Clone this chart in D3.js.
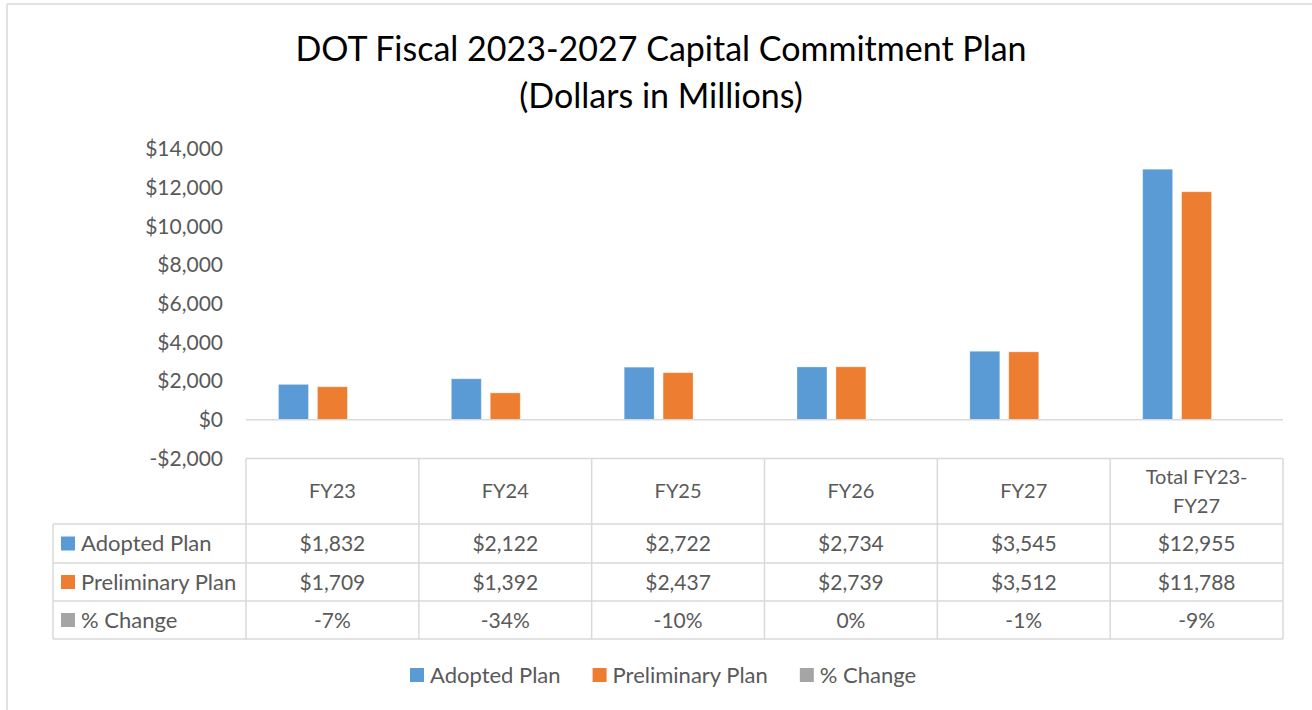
<!DOCTYPE html>
<html>
<head>
<meta charset="utf-8">
<script src="https://cdn.jsdelivr.net/npm/d3@7"></script>
<style>
  body { margin: 0; background: #fff; }
  svg { display: block; font-family: Lato, "Open Sans", sans-serif; }
</style>
</head>
<body>
<svg id="chart" width="1312" height="710"></svg>
<script>
var categories = ["FY23", "FY24", "FY25", "FY26", "FY27", "Total FY23-FY27"];
var headerLines = [["FY23"], ["FY24"], ["FY25"], ["FY26"], ["FY27"], ["Total FY23-", "FY27"]];
var seriesNames = ["Adopted Plan", "Preliminary Plan", "% Change"];
var adopted = [1832, 2122, 2722, 2734, 3545, 12955];
var preliminary = [1709, 1392, 2437, 2739, 3512, 11788];
var pctChange = [-0.07, -0.34, -0.10, 0.00, -0.01, -0.09];
var yTicks = [-2000, 0, 2000, 4000, 6000, 8000, 10000, 12000, 14000];
var colors = ["#5B9BD5", "#ED7D31", "#A5A5A5"];

var svg = d3.select("#chart");
var gridColor = "#D9D9D9",
  textColor = "#595959";

var left = 246,
  right = 1283,
  labelLeft = 53;

// outer chart border (only top and left show in the picture)
svg.append("line").attr("x1", 7).attr("x2", 7).attr("y1", 4).attr("y2", 710)
  .attr("stroke", gridColor).attr("stroke-width", 1.5);
svg.append("line").attr("x1", 7).attr("x2", 1312).attr("y1", 4).attr("y2", 4)
  .attr("stroke", gridColor).attr("stroke-width", 1.5);

// title
var title = svg.append("text")
  .attr("text-anchor", "middle")
  .attr("fill", "#000")
  .style("font-size", "34px");
title.append("tspan").attr("x", 661).attr("y", 61).text("DOT Fiscal 2023-2027 Capital Commitment Plan");
title.append("tspan").attr("x", 661).attr("y", 108).text("(Dollars in Millions)");

var x0 = d3.scaleBand()
  .domain(categories)
  .range([left, right])
  .paddingInner(0.376)
  .paddingOuter(0.188);

var x1 = d3.scaleBand()
  .domain(seriesNames)
  .range([0, x0.bandwidth()])
  .paddingInner(0.23);

var y = d3.scaleLinear()
  .domain([-2000, 14000])
  .range([458.5, 149]);

// y axis labels
var yAxis = d3.axisLeft(y)
  .tickValues(yTicks)
  .tickSize(0)
  .tickPadding(0)
  .tickFormat(function(d) {
    return (d < 0 ? "-$" : "$") + d3.format(",")(Math.abs(d));
  });

var yg = svg.append("g")
  .attr("transform", "translate(223,0)")
  .call(yAxis);
yg.select(".domain").remove();
yg.selectAll("text")
  .attr("fill", textColor)
  .style("font-size", "21px")
  .style("font-family", "Lato, 'Open Sans', sans-serif");

// bars
var rows = categories.map(function(c, i) {
  return { cat: c, values: [adopted[i], preliminary[i], pctChange[i]] };
});

var groups = svg.append("g")
  .selectAll("g")
  .data(rows)
  .enter()
  .append("g")
  .attr("transform", function(d) {
    return "translate(" + x0(d.cat) + ",0)";
  });

groups.selectAll("rect")
  .data(function(d) {
    return d.values.map(function(v, j) {
      return { name: seriesNames[j], value: v, color: colors[j] };
    });
  })
  .enter()
  .append("rect")
  .attr("x", function(d) { return x1(d.name); })
  .attr("width", x1.bandwidth())
  .attr("y", function(d) { return y(Math.max(0, d.value)); })
  .attr("height", function(d) { return Math.abs(y(d.value) - y(0)); })
  .attr("fill", function(d) { return d.color; })
  .attr("stroke", "#fff")
  .attr("stroke-opacity", 0.4)
  .attr("stroke-width", 0.8);

// zero line
svg.append("line")
  .attr("x1", left).attr("x2", right)
  .attr("y1", y(0)).attr("y2", y(0))
  .attr("stroke", gridColor).attr("stroke-width", 1.5);

// data table
var tableTop = y(-2000),
  rowEdges = [tableTop, 524, 563, 601, 639];
var table = svg.append("g").attr("class", "table");

// horizontal lines
table.append("line")
  .attr("x1", left).attr("x2", right)
  .attr("y1", rowEdges[0]).attr("y2", rowEdges[0]);
rowEdges.slice(1).forEach(function(ry) {
  table.append("line")
    .attr("x1", labelLeft).attr("x2", right)
    .attr("y1", ry).attr("y2", ry);
});

// vertical lines
var colEdges = categories.map(function(c) {
  return x0(c) - x0.step() * x0.paddingInner() / 2;
});
colEdges.push(right);
colEdges.forEach(function(cx) {
  table.append("line")
    .attr("x1", cx).attr("x2", cx)
    .attr("y1", rowEdges[0]).attr("y2", rowEdges[4]);
});
table.append("line")
  .attr("x1", labelLeft).attr("x2", labelLeft)
  .attr("y1", rowEdges[1]).attr("y2", rowEdges[4]);
table.selectAll("line").attr("stroke", gridColor).attr("stroke-width", 1.5);

// header text
var header = table.append("g")
  .selectAll("text")
  .data(categories)
  .enter()
  .append("text")
  .attr("text-anchor", "middle")
  .attr("fill", textColor)
  .style("font-size", "20px");
header.each(function(c, i) {
  var lines = headerLines[i];
  var cx = x0(c) + x0.bandwidth() / 2;
  var midY = (rowEdges[0] + rowEdges[1]) / 2;
  var lh = 29;
  var t = d3.select(this);
  lines.forEach(function(l, k) {
    t.append("tspan")
      .attr("x", cx)
      .attr("y", midY + (k - (lines.length - 1) / 2) * lh + 7)
      .text(l);
  });
});

// body rows
var seriesValues = [adopted, preliminary, pctChange];
var fmtMoney = function(v) { return "$" + d3.format(",")(v); };
var fmtPct = function(v) { return Math.round(v * 100) + "%"; };

seriesNames.forEach(function(name, j) {
  var cy = (rowEdges[j + 1] + rowEdges[j + 2]) / 2;
  table.append("rect")
    .attr("x", 61).attr("y", cy - 7)
    .attr("width", 14).attr("height", 14)
    .attr("fill", colors[j]);
  table.append("text")
    .attr("x", 81).attr("y", cy + 7.5)
    .attr("fill", textColor)
    .style("font-size", "22px")
    .text(name);
  categories.forEach(function(c, i) {
    table.append("text")
      .attr("x", x0(c) + x0.bandwidth() / 2)
      .attr("y", cy + 7.5)
      .attr("text-anchor", "middle")
      .attr("fill", textColor)
      .style("font-size", "21px")
      .text(j === 2 ? fmtPct(seriesValues[j][i]) : fmtMoney(seriesValues[j][i]));
  });
});

// legend
var legend = svg.append("g").attr("class", "legend");
var legendX = 410,
  legendY = 675;
seriesNames.forEach(function(name, j) {
  var item = legend.append("g").attr("transform", "translate(" + legendX + "," + legendY + ")");
  item.append("rect")
    .attr("x", 0).attr("y", -7)
    .attr("width", 14).attr("height", 14)
    .attr("fill", colors[j]);
  var t = item.append("text")
    .attr("x", 20).attr("y", 7.5)
    .attr("fill", textColor)
    .style("font-size", "22px")
    .text(name);
  legendX += 20 + t.node().getComputedTextLength() + 32;
});
</script>
</body>
</html>
